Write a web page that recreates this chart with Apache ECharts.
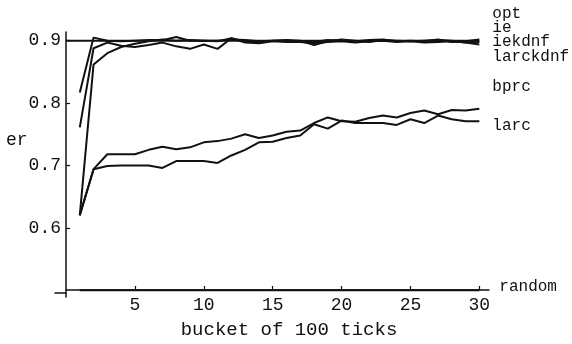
<!DOCTYPE html>
<html><head><meta charset="utf-8">
<script src="https://cdn.jsdelivr.net/npm/echarts@6/dist/echarts.min.js"></script>
<style>html,body{margin:0;padding:0;background:#fff}#c{width:572px;height:344px}</style>
</head><body><div id="c"></div>
<script>
const buckets = [1,2,3,4,5,6,7,8,9,10,11,12,13,14,15,16,17,18,19,20,21,22,23,24,25,26,27,28,29,30];
const optBuckets = [0, 30];
const optValues = [0.9, 0.9];
const ieValues = [0.817,0.905,0.900,0.899,0.900,0.901,0.901,0.906,0.900,0.900,0.899,0.904,0.899,0.897,0.900,0.900,0.899,0.898,0.901,0.900,0.899,0.901,0.902,0.899,0.900,0.899,0.902,0.898,0.899,0.902];
const iekdnfValues = [0.761,0.888,0.897,0.892,0.890,0.893,0.897,0.891,0.887,0.894,0.887,0.904,0.897,0.896,0.899,0.898,0.898,0.896,0.898,0.899,0.897,0.899,0.900,0.898,0.899,0.897,0.898,0.899,0.897,0.898];
const larckdnfValues = [0.620,0.862,0.880,0.890,0.895,0.899,0.902,0.900,0.901,0.900,0.900,0.902,0.901,0.899,0.900,0.901,0.900,0.893,0.899,0.902,0.900,0.898,0.901,0.900,0.899,0.900,0.901,0.900,0.897,0.894];
const bprcValues = [0.620,0.694,0.718,0.718,0.718,0.725,0.730,0.726,0.729,0.737,0.739,0.743,0.750,0.744,0.748,0.754,0.756,0.768,0.777,0.771,0.770,0.776,0.780,0.777,0.784,0.788,0.782,0.789,0.788,0.791];
const larcValues = [0.620,0.694,0.699,0.700,0.700,0.700,0.696,0.707,0.707,0.707,0.704,0.716,0.725,0.737,0.738,0.744,0.748,0.766,0.759,0.772,0.768,0.768,0.768,0.765,0.774,0.768,0.780,0.774,0.771,0.771];
const randomValues = [0.5,0.5,0.5,0.5,0.5,0.5,0.5,0.5,0.5,0.5,0.5,0.5,0.5,0.5,0.5,0.5,0.5,0.5,0.5,0.5,0.5,0.5,0.5,0.5,0.5,0.5,0.5,0.5,0.5,0.5];
const xTickValues = [5,10,15,20,25,30];
const yTickValues = [0.6,0.7,0.8,0.9];

const FONT = 'Liberation Mono';
const INK = '#111';
function pairs(xs, ys){ return xs.map((x,i)=>[x, ys[i]]); }
function lineSeries(name, xs, ys, dx, dy){
  return {
    name: name, type: 'line', data: pairs(xs, ys), symbol: 'none', silent: true,
    lineStyle: {color: INK, width: 2}, z: 3,
    endLabel: {show: true, formatter: function(){return name;}, color: INK, fontFamily: FONT,
      fontSize: 16, distance: 0, offset: [dx, dy], align: 'left', verticalAlign: 'middle'}
  };
}
const chart = echarts.init(document.getElementById('c'), null, {renderer: 'canvas'});
chart.setOption({
  animation: false,
  backgroundColor: '#fff',
  grid: [
    {left: 66, right: 83, top: 32, bottom: 44},
    {left: 55, right: 506, top: 32, bottom: 44}
  ],
  graphic: [{type: 'text', left: 6, top: 131, style: {text: 'er', fill: INK, font: '18px "Liberation Mono"'}}],
  xAxis: [{
    type: 'value', min: 0, max: 30.7, offset: -7, gridIndex: 0,
    axisLine: {onZero: false, lineStyle: {color: INK, width: 1.5}},
    axisTick: {show: true, inside: true, length: 4, customValues: xTickValues, lineStyle: {color: INK, width: 1.2}},
    axisLabel: {customValues: xTickValues, margin: 6, color: INK, fontFamily: FONT, fontSize: 18},
    splitLine: {show: false},
    name: 'bucket of 100 ticks', nameLocation: 'middle', nameGap: 30,
    nameTextStyle: {color: INK, fontFamily: FONT, fontSize: 19, padding: [0, 0, 0, 23]}
  }, {
    type: 'value', min: -0.8, max: 0, offset: -7, gridIndex: 1,
    axisLine: {onZero: false, lineStyle: {color: INK, width: 1.5}},
    axisTick: {show: false}, axisLabel: {show: false}, splitLine: {show: false}
  }],
  yAxis: [{
    type: 'value', min: 0.489, max: 0.914, gridIndex: 0,
    axisLine: {show: true, onZero: false, lineStyle: {color: INK, width: 1.5}},
    axisTick: {show: true, inside: true, length: 4, customValues: yTickValues, lineStyle: {color: INK, width: 1.2}},
    axisLabel: {customValues: yTickValues, formatter: function(v){return v.toFixed(1);}, margin: 5, color: INK, fontFamily: FONT, fontSize: 18},
    splitLine: {show: false}
  }, {
    type: 'value', min: 0.489, max: 0.914, gridIndex: 1, show: false
  }],
  series: [
    lineSeries('opt', optBuckets, optValues, 13, -27),
    lineSeries('ie', buckets, ieValues, 13, -12),
    lineSeries('iekdnf', buckets, iekdnfValues, 13, 0),
    lineSeries('larckdnf', buckets, larckdnfValues, 13, 12),
    lineSeries('bprc', buckets, bprcValues, 13, -22),
    lineSeries('larc', buckets, larcValues, 13, 5),
    lineSeries('random', buckets, randomValues, 20, -3)
  ]
});
</script></body></html>
